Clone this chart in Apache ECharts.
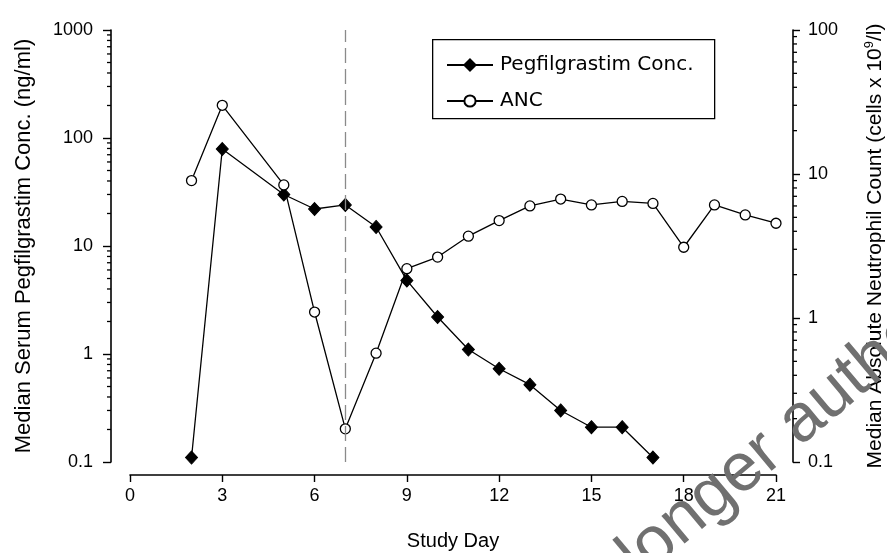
<!DOCTYPE html>
<html>
<head>
<meta charset="utf-8">
<script src="https://cdn.jsdelivr.net/npm/echarts@6/dist/echarts.min.js"></script>
<style>
html,body{margin:0;padding:0;background:#fff;}
#chart{width:887px;height:553px;}
</style>
</head>
<body>
<div id="chart"></div>
<script>
// ---- data ----
const pegDays = [2, 3, 5, 6, 7, 8, 9, 10, 11, 12, 13, 14, 15, 16, 17];
const pegConc = [0.11, 79, 30, 22, 24, 15, 4.8, 2.2, 1.1, 0.73, 0.52, 0.30, 0.21, 0.21, 0.11];
const ancDays = [2, 3, 5, 6, 7, 8, 9, 10, 11, 12, 13, 14, 15, 16, 17, 18, 19, 20, 21];
const ancValues = [9.0, 30, 8.4, 1.1, 0.17, 0.57, 2.2, 2.65, 3.7, 4.75, 6.0, 6.7, 6.1, 6.45, 6.25, 3.1, 6.1, 5.2, 4.55];
const doseDay = 7;
const xTicks = [0, 3, 6, 9, 12, 15, 18, 21];
const leftDecades = [0.1, 1, 10, 100, 1000];
const rightDecades = [0.1, 1, 10, 100];
const seriesNames = ['Pegfilgrastim Conc.', 'ANC'];
const xTitle = 'Study Day';
const leftTitle = 'Median Serum Pegfilgrastim Conc. (ng/ml)';
const watermark = 'no longer authoritative';

function minorTicks(decades) {
  const out = [];
  for (let i = 0; i < decades.length - 1; i++) {
    for (let k = 2; k <= 9; k++) out.push(decades[i] * k);
  }
  return out;
}
const leftMinor = minorTicks(leftDecades);
const rightMinor = minorTicks(rightDecades);

const FONT = '"Liberation Sans", Arial, sans-serif';
const chart = echarts.init(document.getElementById('chart'), null, {renderer: 'canvas'});

const fmt = v => String(+(+v).toPrecision(3));

const option = {
  animation: false,
  backgroundColor: '#fff',
  textStyle: {fontFamily: FONT, color: '#000'},
  grid: {left: 130, right: 111, top: 30, bottom: 91, containLabel: false, outerBoundsMode: 'none'},
  legend: {
    show: true,
    data: seriesNames,
    orient: 'vertical',
    left: 446, top: 55,
    padding: 0,
    itemWidth: 46, itemHeight: 14, itemGap: 16,
    textStyle: {fontSize: 20, fontFamily: '"DejaVu Sans", sans-serif', color: '#000', padding: [0,0,0,2]},
    selectedMode: false
  },
  xAxis: {
    type: 'value',
    min: xTicks[0], max: xTicks[xTicks.length - 1], interval: 3,
    offset: 13,
    name: xTitle, nameLocation: 'middle', nameGap: 56,
    nameTextStyle: {fontSize: 20, fontFamily: FONT, color: '#000'},
    axisLine: {show: true, onZero: false, lineStyle: {color: '#000', width: 1.6}},
    axisTick: {show: true, inside: false, length: 7, lineStyle: {color: '#000', width: 1.4}},
    axisLabel: {fontSize: 18, color: '#000', margin: 12, fontFamily: FONT},
    splitLine: {show: false}
  },
  yAxis: [
    {
      type: 'log', logBase: 10, min: leftDecades[0], max: leftDecades[leftDecades.length - 1],
      position: 'left', offset: 19,
      name: leftTitle, nameLocation: 'middle', nameGap: 76, nameRotate: 90,
      nameTextStyle: {fontSize: 22, fontFamily: FONT, color: '#000'},
      axisLine: {show: true, onZero: false, lineStyle: {color: '#000', width: 1.6}},
      axisTick: {show: true, inside: false, length: 8, lineStyle: {color: '#000', width: 1.4}},
      axisLabel: {fontSize: 18, color: '#000', margin: 18, formatter: fmt, fontFamily: FONT},
      splitLine: {show: false}
    },
    {
      type: 'log', logBase: 10, min: rightDecades[0], max: rightDecades[rightDecades.length - 1],
      position: 'right', offset: 17,
      name: '{a|Median Absolute Neutrophil Count (cells x 10}{s|9}{a|/l)}',
      nameLocation: 'middle', nameGap: 70, nameRotate: 90,
      nameTextStyle: {
        fontSize: 21, fontFamily: FONT, color: '#000',
        rich: {
          a: {fontSize: 21, fontFamily: FONT, color: '#000', lineHeight: 24},
          s: {fontSize: 13, fontFamily: FONT, color: '#000', verticalAlign: 'top', lineHeight: 24}
        }
      },
      axisLine: {show: true, onZero: false, lineStyle: {color: '#000', width: 1.6}},
      axisTick: {show: true, inside: false, length: 7, lineStyle: {color: '#000', width: 1.4}},
      axisLabel: {fontSize: 18, color: '#000', margin: 15, formatter: fmt, fontFamily: FONT},
      splitLine: {show: false}
    }
  ],
  graphic: [
    {type: 'rect', left: 432, top: 39, shape: {width: 282, height: 79},
     style: {fill: 'transparent', stroke: '#000', lineWidth: 1.3}, z: 5, silent: true},
    {type: 'text', x: 556, y: 627, rotation: 40 * Math.PI / 180, z: 100, silent: true,
     style: {text: watermark, font: '68px "Liberation Sans", Arial, sans-serif', fill: '#707070',
             align: 'left', verticalAlign: 'middle', textAlign: 'left', textVerticalAlign: 'middle'}}
  ],
  series: [
    {
      name: seriesNames[0], type: 'line', yAxisIndex: 0,
      data: pegDays.map((d, i) => [d, pegConc[i]]),
      symbol: 'diamond', symbolSize: [12, 13],
      itemStyle: {color: '#000', borderColor: '#000', borderWidth: 1},
      lineStyle: {color: '#000', width: 1.3},
      z: 3,
      markLine: {
        silent: true, symbol: 'none', label: {show: false},
        lineStyle: {color: '#8a8a8a', width: 1.3, type: [15, 6]},
        data: [{xAxis: doseDay}]
      }
    },
    {
      name: seriesNames[1], type: 'line', yAxisIndex: 1,
      data: ancDays.map((d, i) => [d, ancValues[i]]),
      symbol: 'circle', symbolSize: 10,
      itemStyle: {color: '#fff', borderColor: '#000', borderWidth: 1.3},
      lineStyle: {color: '#000', width: 1.3},
      z: 4
    },
    {
      type: 'custom', yAxisIndex: 0, silent: true, clip: false,
      data: leftMinor.map(v => [xTicks[0], v]),
      renderItem: function (params, api) {
        const p = api.coord([api.value(0), api.value(1)]);
        const x = p[0] - 19;
        return {type: 'line', shape: {x1: x, y1: p[1], x2: x - 4, y2: p[1]},
                style: {stroke: '#000', lineWidth: 1.3}};
      }
    },
    {
      type: 'custom', yAxisIndex: 1, silent: true, clip: false,
      data: rightMinor.map(v => [xTicks[xTicks.length - 1], v]),
      renderItem: function (params, api) {
        const p = api.coord([api.value(0), api.value(1)]);
        const x = p[0] + 17;
        return {type: 'line', shape: {x1: x, y1: p[1], x2: x + 4, y2: p[1]},
                style: {stroke: '#000', lineWidth: 1.3}};
      }
    }
  ]
};
chart.setOption(option);
</script>
</body>
</html>
